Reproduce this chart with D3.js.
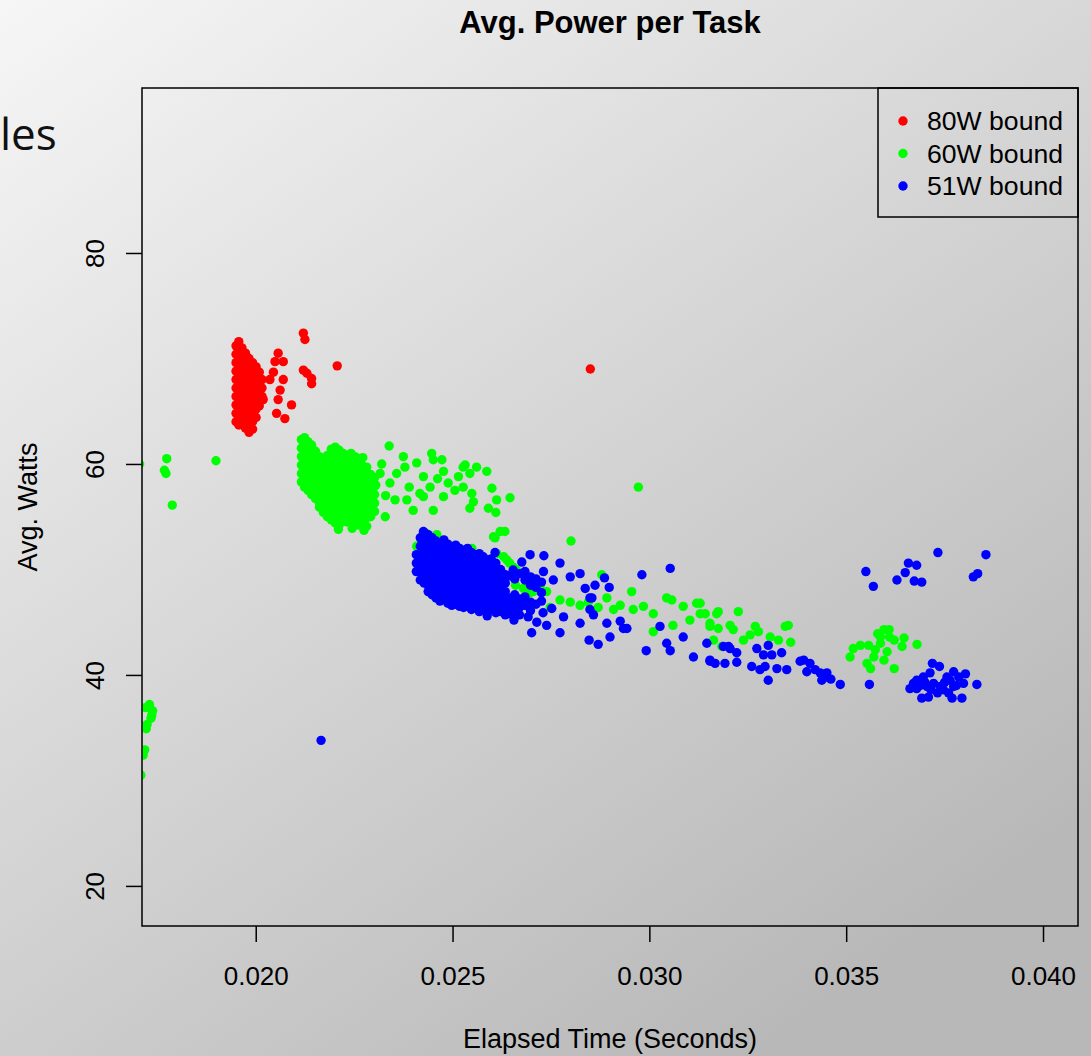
<!DOCTYPE html>
<html>
<head>
<meta charset="utf-8">
<script src="https://cdn.jsdelivr.net/npm/d3@7"></script>
<style>
  html, body { margin: 0; padding: 0; overflow: hidden; }
  svg { display: block; }
</style>
</head>
<body>
<script>
// ---- Data: elapsed time (milliseconds) vs. average watts per task ----
const xTicks = [0.020, 0.025, 0.030, 0.035, 0.040];
const yTicks = [20, 40, 60, 80];
const seriesNames = ["80W bound", "60W bound", "51W bound"];

const bound80 = [
  [19.50,71.2],[19.50,70.4],[19.50,69.6],[19.50,68.8],[19.50,68.0],[19.50,67.2],[19.50,66.4],[19.50,65.6],[19.50,64.8],[19.50,64.0],
  [19.57,71.6],[19.57,70.8],[19.57,70.0],[19.57,69.2],[19.57,68.4],[19.57,67.6],[19.57,66.8],[19.57,66.0],[19.57,65.2],[19.57,64.4],[19.57,63.7],
  [19.65,71.0],[19.65,70.2],[19.65,69.4],[19.65,68.6],[19.65,67.8],[19.65,67.0],[19.65,66.2],[19.65,65.4],[19.65,64.6],[19.65,63.8],
  [19.74,70.5],[19.74,69.7],[19.74,68.9],[19.74,68.1],[19.74,67.3],[19.74,66.5],[19.74,65.7],[19.74,64.9],[19.74,64.1],[19.74,63.4],
  [19.83,70.0],[19.83,69.2],[19.83,68.4],[19.83,67.6],[19.83,66.8],[19.83,66.0],[19.83,65.2],[19.83,64.4],[19.83,63.6],[19.83,63.0],
  [19.92,69.6],[19.92,68.8],[19.92,68.0],[19.92,67.2],[19.92,66.4],[19.92,65.6],[19.92,64.8],[19.92,64.0],[19.92,63.3],
  [20.01,69.2],[20.01,68.4],[20.01,67.6],[20.01,66.8],[20.01,66.0],[20.01,65.2],[20.01,64.4],
  [20.09,68.7],[20.09,67.9],[20.09,67.1],[20.09,66.3],[20.09,65.5],
  [20.16,68.0],[20.16,67.2],[20.16,66.4],
  [20.19,66.1],[20.36,68.0],[20.45,68.7],[20.49,69.7],[20.57,70.5],[20.70,69.7],[20.70,68.0],[20.62,67.0],
  [20.57,66.1],[20.53,64.8],[20.91,65.6],[20.74,64.3],
  [21.21,72.4],[21.25,71.8],[21.21,68.9],[21.30,68.6],[21.42,68.1],[21.42,67.6],[22.07,69.3],[28.50,69.0]
];

const bound60 = [
  // stragglers near the left frame
  [17.05,60.0],[17.30,37.2],[17.38,36.6],[17.34,35.9],[17.24,35.3],[17.36,36.2],[17.22,34.9],[17.20,36.9],
  [17.18,32.9],[17.14,32.4],[17.08,30.5],
  [17.74,60.5],[17.68,59.4],[17.72,59.1],[17.88,56.1],[18.99,60.3],
  // dense cluster
  [21.16,62.3],[21.16,61.5],[21.16,60.7],[21.16,59.9],[21.16,59.1],[21.16,58.3],
  [21.24,62.5],[21.24,61.7],[21.24,60.9],[21.24,60.1],[21.24,59.3],[21.24,58.5],[21.24,57.8],
  [21.33,62.1],[21.33,61.3],[21.33,60.5],[21.33,59.7],[21.33,58.9],[21.33,58.1],[21.33,57.5],
  [21.42,61.8],[21.42,61.0],[21.42,60.2],[21.42,59.4],[21.42,58.6],[21.42,57.8],[21.42,57.1],
  [21.52,61.2],[21.52,60.5],[21.52,59.8],[21.52,59.1],[21.52,58.3],[21.52,57.5],[21.52,56.7],
  [21.62,60.7],[21.62,60.0],[21.62,59.3],[21.62,58.6],[21.62,57.8],[21.62,57.0],[21.62,56.3],[21.62,55.9],
  [21.72,60.4],[21.72,59.7],[21.72,59.0],[21.72,58.2],[21.72,57.4],[21.72,56.6],[21.72,55.8],[21.72,55.4],
  [21.82,60.8],[21.82,60.1],[21.82,59.4],[21.82,58.7],[21.82,58.0],[21.82,57.2],[21.82,56.4],[21.82,55.6],[21.82,55.0],
  [21.92,61.4],[21.92,60.6],[21.92,59.8],[21.92,59.0],[21.92,58.2],[21.92,57.4],[21.92,56.6],[21.92,55.8],[21.92,55.1],[21.92,54.7],
  [22.02,61.6],[22.02,60.8],[22.02,60.0],[22.02,59.2],[22.02,58.4],[22.02,57.6],[22.02,56.8],[22.02,56.0],[22.02,55.2],[22.02,54.4],
  [22.12,61.3],[22.12,60.5],[22.12,59.7],[22.12,58.9],[22.12,58.1],[22.12,57.3],[22.12,56.5],[22.12,55.7],[22.12,54.9],[22.12,54.2],
  [22.22,61.0],[22.22,60.2],[22.22,59.4],[22.22,58.6],[22.22,57.8],[22.22,57.0],[22.22,56.2],[22.22,55.4],[22.22,54.7],
  [22.32,60.7],[22.32,59.9],[22.32,59.1],[22.32,58.3],[22.32,57.5],[22.32,56.7],[22.32,55.9],[22.32,55.1],[22.32,54.5],
  [22.42,61.0],[22.42,60.2],[22.42,59.4],[22.42,58.6],[22.42,57.8],[22.42,57.0],[22.42,56.2],[22.42,55.4],[22.42,54.6],
  [22.52,60.7],[22.52,59.9],[22.52,59.1],[22.52,58.3],[22.52,57.5],[22.52,56.7],[22.52,55.9],[22.52,55.1],[22.52,54.4],
  [22.62,60.5],[22.62,59.7],[22.62,58.9],[22.62,58.1],[22.62,57.3],[22.62,56.5],[22.62,55.7],[22.62,54.9],[22.62,54.2],
  [22.72,60.6],[22.72,59.8],[22.72,59.0],[22.72,58.2],[22.72,57.4],[22.72,56.6],[22.72,55.8],[22.72,55.0],[22.72,54.3],
  [22.82,59.7],[22.82,58.9],[22.82,58.1],[22.82,57.3],[22.82,56.5],[22.82,55.7],[22.82,54.9],[22.82,54.1],
  [22.92,59.0],[22.92,58.2],[22.92,57.4],[22.92,56.6],[22.92,55.8],[22.92,55.0],
  [23.02,58.7],[23.02,57.9],[23.02,57.1],[23.02,56.3],[23.02,55.5],
  [22.10,53.8],[22.75,53.7],[22.45,53.9],
  // looser spread to the right of the cluster
  [23.39,61.7],[23.20,60.0],[23.16,59.1],[23.29,55.0],[23.75,60.7],[23.79,59.7],[23.58,59.1],[23.41,58.2],
  [23.54,56.6],[23.84,56.6],[24.00,55.6],[24.09,60.1],[24.26,58.8],[24.47,61.0],[24.51,60.4],[24.73,60.4],
  [24.43,57.8],[24.26,56.9],[24.51,55.6],[24.77,59.3],[24.89,58.2],[24.77,56.9],[25.06,57.5],[25.27,57.8],
  [25.32,59.9],[25.61,59.7],[25.87,59.3],[25.44,59.1],[26.00,57.7],[25.49,57.2],[25.53,56.4],[25.44,55.8],
  [25.91,55.8],[26.12,56.6],[26.10,55.4],[26.46,56.8],[26.04,53.1],[26.33,53.6],[25.27,59.7],[23.90,57.8],
  [24.17,57.2],[23.05,58.0],[23.30,57.0],[24.62,58.6],[25.15,58.8],[29.72,57.8],[28.01,52.7],
  // lower band alongside the 51W points
  [24.34,53.4],[24.60,53.3],[24.09,52.2],[24.94,52.2],[25.49,52.0],[26.21,53.6],[26.08,53.0],[26.38,50.9],
  [26.63,49.9],[26.12,51.5],[26.30,51.2],[26.45,50.6],[26.55,50.2],[26.60,48.5],[26.85,48.2],[27.05,47.9],
  [28.79,49.5],[28.92,47.3],[29.55,47.9],[27.73,47.1],[27.99,46.9],[28.24,46.6],[29.09,46.2],[29.26,46.6],
  [29.59,46.2],[29.85,46.5],[30.10,45.8],[30.44,47.3],[30.57,47.1],[30.86,46.5],[31.20,46.8],[31.29,45.8],
  [31.03,45.2],[31.71,45.8],[31.54,44.9],[32.05,44.7],[32.26,46.0],[32.39,43.3],[30.10,44.1],[30.60,44.7],
  [27.48,46.4],[26.97,47.8],[27.22,48.4],[26.80,48.2],[27.39,47.9],[28.45,46.9],[28.70,46.4],
  [31.29,46.8],[31.42,45.8],[31.75,46.0],[31.54,44.6],[31.75,44.4],[32.13,44.3],[32.69,44.6],[32.56,43.8],
  [32.77,44.1],[33.07,43.6],[33.28,43.3],[33.45,44.6],[33.53,44.7],[33.59,43.1],[31.84,42.7],[31.63,43.3],
  [35.10,41.7],[35.18,42.5],[35.36,42.8],[35.57,42.8],[35.53,41.1],[35.62,40.6],[35.87,43.6],[35.96,44.3],
  [36.09,44.3],[36.22,43.3],[35.74,42.4],[35.96,41.4],[35.70,41.7],[36.47,43.5],[36.42,42.7],[36.80,42.9],
  [36.22,40.6],[35.87,43.0],[36.04,42.2],[35.80,43.9],[36.10,43.6]
];

const bound51 = [
  // dense cluster
  [24.08,51.4],[24.08,50.6],[24.08,49.8],
  [24.18,53.0],[24.18,52.2],[24.18,51.4],[24.18,50.6],[24.18,49.8],[24.18,49.0],
  [24.28,53.5],[24.28,52.7],[24.28,51.9],[24.28,51.1],[24.28,50.3],[24.28,49.5],[24.28,48.7],
  [24.38,53.3],[24.38,52.5],[24.38,51.7],[24.38,50.9],[24.38,50.1],[24.38,49.3],[24.38,48.5],[24.38,47.9],
  [24.48,53.0],[24.48,52.2],[24.48,51.4],[24.48,50.6],[24.48,49.8],[24.48,49.0],[24.48,48.2],[24.48,47.6],
  [24.58,52.7],[24.58,51.9],[24.58,51.1],[24.58,50.3],[24.58,49.5],[24.58,48.7],[24.58,47.9],[24.58,47.3],
  [24.68,52.5],[24.68,51.7],[24.68,50.9],[24.68,50.1],[24.68,49.3],[24.68,48.5],[24.68,47.7],[24.68,47.0],
  [24.78,52.8],[24.78,52.0],[24.78,51.2],[24.78,50.4],[24.78,49.6],[24.78,48.8],[24.78,48.0],[24.78,47.2],
  [24.88,52.4],[24.88,51.6],[24.88,50.8],[24.88,50.0],[24.88,49.2],[24.88,48.4],[24.88,47.6],[24.88,46.8],
  [24.98,52.1],[24.98,51.3],[24.98,50.5],[24.98,49.7],[24.98,48.9],[24.98,48.1],[24.98,47.3],[24.98,46.6],
  [25.08,52.3],[25.08,51.5],[25.08,50.7],[25.08,49.9],[25.08,49.1],[25.08,48.3],[25.08,47.5],[25.08,46.7],
  [25.18,52.0],[25.18,51.2],[25.18,50.4],[25.18,49.6],[25.18,48.8],[25.18,48.0],[25.18,47.2],[25.18,46.5],
  [25.28,51.8],[25.28,51.0],[25.28,50.2],[25.28,49.4],[25.28,48.6],[25.28,47.8],[25.28,47.0],[25.28,46.4],
  [25.38,52.0],[25.38,51.2],[25.38,50.4],[25.38,49.6],[25.38,48.8],[25.38,48.0],[25.38,47.2],[25.38,46.5],
  [25.48,51.6],[25.48,50.8],[25.48,50.0],[25.48,49.2],[25.48,48.4],[25.48,47.6],[25.48,46.8],[25.48,46.2],
  [25.58,51.4],[25.58,50.6],[25.58,49.8],[25.58,49.0],[25.58,48.2],[25.58,47.4],[25.58,46.6],
  [25.68,51.5],[25.68,50.7],[25.68,49.9],[25.68,49.1],[25.68,48.3],[25.68,47.5],[25.68,46.7],[25.68,46.0],
  [25.78,51.2],[25.78,50.4],[25.78,49.6],[25.78,48.8],[25.78,48.0],[25.78,47.2],[25.78,46.4],
  [25.88,50.9],[25.88,50.1],[25.88,49.3],[25.88,48.5],[25.88,47.7],[25.88,46.9],[25.88,46.1],[25.88,45.6],
  [25.98,51.0],[25.98,50.2],[25.98,49.4],[25.98,48.6],[25.98,47.8],[25.98,47.0],[25.98,46.2],
  [26.10,50.6],[26.10,49.8],[26.10,49.0],[26.10,48.2],[26.10,47.4],[26.10,46.6],[26.10,45.9],
  [26.22,50.0],[26.22,49.2],[26.22,48.4],[26.22,47.6],[26.22,46.8],[26.22,46.0],
  [26.34,49.5],[26.34,48.7],[26.34,47.9],[26.34,47.1],[26.34,46.3],[26.34,45.7],
  [26.46,49.4],[26.46,47.3],[26.46,46.5],[26.46,45.8],
  [26.58,49.1],[26.58,47.6],[26.58,46.8],[26.58,46.0],
  [26.70,49.6],[26.70,47.2],[26.70,46.4],[26.70,45.7],
  [26.84,49.8],[26.84,49.0],[26.84,47.4],[26.84,46.6],
  [26.98,49.3],[26.98,48.5],[26.98,46.9],[26.98,46.1],
  [27.12,49.1],[27.12,48.3],[27.12,46.7],
  [27.26,48.8],[27.26,47.8],[27.26,47.0],
  // trailing band
  [30.53,50.1],[29.81,49.5],[29.92,42.3],[29.00,43.6],[28.70,42.9],[28.47,43.3],[27.73,44.0],[27.01,44.0],
  [26.56,45.2],[28.86,49.2],[28.98,48.3],[28.62,48.5],[28.24,49.6],[27.32,51.3],[26.97,51.4],[26.08,51.6],
  [24.26,53.6],[28.49,47.3],[29.26,45.1],[29.43,44.4],[30.27,44.6],[30.44,43.0],[30.53,42.3],[30.86,43.6],
  [31.12,41.7],[31.46,43.0],[31.54,41.3],[31.92,41.1],[32.22,41.2],[32.01,42.7],
  [27.73,50.6],[27.99,49.3],[28.37,48.2],[28.54,47.3],[28.49,46.2],[28.24,44.9],[28.58,45.7],[28.92,44.9],
  [27.52,46.3],[27.82,45.5],[27.30,45.9],[27.39,44.7],[27.14,45.0],[26.92,45.5],[27.56,49.0],[27.31,49.8],
  [26.76,50.7],[26.54,49.95],[29.34,44.4],
  [31.54,41.4],[31.67,41.1],[31.88,42.7],[32.05,42.5],[32.22,42.1],[32.73,42.5],[32.90,41.9],[33.11,41.9],
  [33.36,42.1],[32.60,40.8],[32.81,40.5],[33.02,39.5],[33.24,40.6],[33.49,40.5],[33.83,41.3],[33.92,41.4],
  [34.08,41.1],[34.00,40.3],[34.21,40.5],[34.34,40.2],[34.42,39.7],[34.51,40.2],[34.38,39.5],[34.61,39.6],
  [34.85,39.1],[35.59,39.1],[33.02,42.8],[32.94,40.8],
  // higher stragglers
  [35.50,49.8],[35.69,48.4],[36.29,49.0],[36.50,49.7],[36.58,50.6],[36.79,50.4],[36.73,48.9],[36.92,48.8],
  [37.33,51.6],[38.23,49.3],[38.34,49.6],[38.55,51.4],
  // cluster near 37 ms
  [37.19,41.1],[37.37,40.8],[36.62,38.7],[36.79,39.5],[36.92,37.8],[37.09,37.9],[36.96,39.8],[37.13,40.2],
  [37.22,39.2],[37.39,38.9],[37.56,39.8],[37.73,40.3],[37.86,39.8],[38.03,40.1],[37.98,39.2],[37.73,38.9],
  [37.60,38.3],[37.69,37.8],[37.94,37.8],[38.32,39.1],[37.32,38.3],[37.05,38.9],[36.79,38.7],[37.47,38.6],
  [37.64,39.5],[36.71,39.2],[36.88,39.0],[37.00,39.3],[37.50,39.3],[37.80,39.0],[37.15,38.6],
  // isolated point
  [21.66,33.8]
];

// ---- Layout ----
const W = 1091, H = 1056;
const frame = { left: 142, right: 1078, top: 88, bottom: 926 };
const style = {
  colors: ["#ff0000", "#00ff00", "#0000ff"],
  font: "'Liberation Sans', Arial, Helvetica, sans-serif",
  r: 4.7
};

const x = d3.scaleLinear().domain([0.017111, 0.040889]).range([frame.left, frame.right]);
const y = d3.scaleLinear().domain([16.2, 95.64]).range([frame.bottom, frame.top]);

const svg = d3.select("body").append("svg").attr("width", W).attr("height", H);

const defs = svg.append("defs");
const grad = defs.append("linearGradient").attr("id", "bg")
  .attr("gradientUnits", "userSpaceOnUse")
  .attr("x1", 0).attr("y1", 0).attr("x2", 760).attr("y2", 1056);
grad.append("stop").attr("offset", 0).attr("stop-color", "#f6f6f6");
grad.append("stop").attr("offset", 1).attr("stop-color", "#b8b8b8");
defs.append("clipPath").attr("id", "plotclip").append("rect")
  .attr("x", frame.left).attr("y", frame.top)
  .attr("width", frame.right - frame.left).attr("height", frame.bottom - frame.top);

svg.append("rect").attr("width", W).attr("height", H).attr("fill", "url(#bg)");

// fragment of slide text at the left edge
svg.append("text").attr("x", 0).attr("y", 150)
  .attr("font-family", "'Open Sans', sans-serif").attr("font-size", 44)
  .attr("fill", "#111").text("les");

// title
svg.append("text").attr("x", (frame.left + frame.right) / 2).attr("y", 33)
  .attr("text-anchor", "middle").attr("font-family", style.font)
  .attr("font-weight", "bold").attr("font-size", 31).attr("fill", "#000")
  .text("Avg. Power per Task");

// points
const series = [bound80, bound60, bound51];
const pts = svg.append("g").attr("clip-path", "url(#plotclip)");
series.forEach((data, i) => {
  pts.append("g").selectAll("circle").data(data).join("circle")
    .attr("cx", d => x(d[0] / 1000))
    .attr("cy", d => y(d[1]))
    .attr("r", style.r)
    .attr("fill", style.colors[i]);
});

// frame
svg.append("rect").attr("x", frame.left).attr("y", frame.top)
  .attr("width", frame.right - frame.left).attr("height", frame.bottom - frame.top)
  .attr("fill", "none").attr("stroke", "#000").attr("stroke-width", 1.5);

// x axis
const xAxis = svg.append("g").attr("transform", `translate(0,${frame.bottom})`)
  .call(d3.axisBottom(x).tickValues(xTicks).tickFormat(d3.format(".3f")).tickSize(16));
xAxis.select(".domain").remove();
xAxis.selectAll(".tick line").attr("stroke", "#000").attr("stroke-width", 1.5);
xAxis.selectAll(".tick text").attr("y", 59).attr("dy", null)
  .attr("font-family", style.font).attr("font-size", 26).attr("fill", "#000");

// y axis
const yAxis = svg.append("g").attr("transform", `translate(${frame.left},0)`)
  .call(d3.axisLeft(y).tickValues(yTicks).tickSize(16));
yAxis.select(".domain").remove();
yAxis.selectAll(".tick line").attr("stroke", "#000").attr("stroke-width", 1.5);
yAxis.selectAll(".tick text")
  .attr("x", 0).attr("y", -38).attr("dy", null)
  .attr("transform", "rotate(-90)")
  .attr("text-anchor", "middle")
  .attr("font-family", style.font).attr("font-size", 26).attr("fill", "#000");

// axis titles
svg.append("text").attr("x", (frame.left + frame.right) / 2).attr("y", 1048)
  .attr("text-anchor", "middle").attr("font-family", style.font).attr("font-size", 27)
  .attr("fill", "#000").text("Elapsed Time (Seconds)");
svg.append("text").attr("transform", `translate(37,${(frame.top + frame.bottom) / 2}) rotate(-90)`)
  .attr("text-anchor", "middle").attr("font-family", style.font).attr("font-size", 27)
  .attr("fill", "#000").text("Avg. Watts");

// legend
const legend = svg.append("g");
legend.append("rect").attr("x", 878).attr("y", frame.top).attr("width", frame.right - 878).attr("height", 129)
  .attr("fill", "none").attr("stroke", "#000").attr("stroke-width", 1.5);
seriesNames.forEach((name, i) => {
  const base = 130 + i * 32.5;
  legend.append("circle").attr("cx", 903).attr("cy", base - 9).attr("r", style.r).attr("fill", style.colors[i]);
  legend.append("text").attr("x", 927).attr("y", base)
    .attr("font-family", style.font).attr("font-size", 26.6).attr("fill", "#000").text(name);
});
</script>
</body>
</html>
